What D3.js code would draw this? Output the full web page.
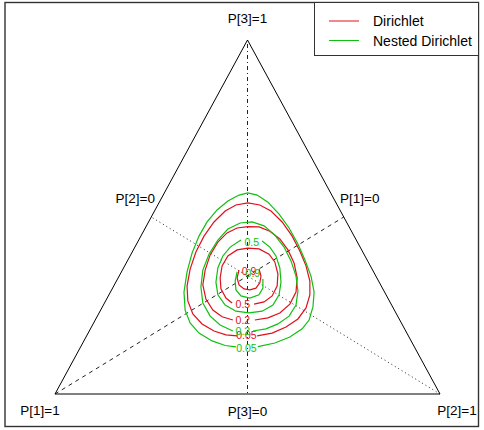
<!DOCTYPE html>
<html>
<head>
<meta charset="utf-8">
<script src="https://cdn.jsdelivr.net/npm/d3@7"></script>
<style>
  body { margin: 0; background: #fff; }
  svg { display: block; font-family: 'Liberation Sans', Arial, sans-serif; }
</style>
</head>
<body>
<script>
// simplex coords: x = p2 + p3/2 (0..1 across the base), y = p3 (0..1 up to the apex)
const seriesNames = ['Dirichlet', 'Nested Dirichlet'];
const levels = ['0.05', '0.2', '0.5', '0.9'];
const vertexLabels = ['P[1]=1', 'P[2]=1', 'P[3]=1'];
const edgeLabels = ['P[2]=0', 'P[1]=0', 'P[3]=0'];

// Dirichlet contours (open where the level label sits)
const dir005 = [[0.525,0.164],[0.564,0.172],[0.600,0.189],[0.631,0.212],[0.652,0.243],[0.662,0.280],[0.662,0.319],[0.652,0.362],[0.636,0.404],[0.616,0.446],[0.590,0.486],[0.561,0.517],[0.532,0.534],[0.501,0.540],[0.470,0.534],[0.442,0.517],[0.413,0.486],[0.387,0.446],[0.366,0.401],[0.351,0.353],[0.343,0.305],[0.345,0.263],[0.358,0.226],[0.382,0.198],[0.413,0.178],[0.444,0.167],[0.473,0.164]];
const dir02 = [[0.519,0.209],[0.553,0.215],[0.584,0.229],[0.610,0.254],[0.626,0.288],[0.629,0.328],[0.621,0.370],[0.605,0.407],[0.584,0.438],[0.558,0.460],[0.530,0.472],[0.501,0.473],[0.473,0.469],[0.447,0.455],[0.423,0.429],[0.403,0.393],[0.390,0.350],[0.384,0.308],[0.392,0.268],[0.410,0.237],[0.434,0.218],[0.462,0.209]];
const dir05 = [[0.517,0.254],[0.543,0.260],[0.564,0.277],[0.577,0.305],[0.579,0.339],[0.571,0.373],[0.556,0.395],[0.530,0.410],[0.501,0.412],[0.473,0.407],[0.449,0.390],[0.434,0.362],[0.429,0.328],[0.431,0.297],[0.444,0.271],[0.460,0.257]];
const dir09 = [[0.530,0.353],[0.535,0.333],[0.532,0.314],[0.522,0.299],[0.506,0.294],[0.491,0.297],[0.478,0.308],[0.473,0.328],[0.478,0.350]];

// Nested Dirichlet contours
const nest005 = [[0.527,0.134],[0.571,0.144],[0.610,0.161],[0.642,0.184],[0.660,0.209],[0.670,0.246],[0.673,0.288],[0.665,0.333],[0.649,0.379],[0.631,0.424],[0.608,0.469],[0.582,0.508],[0.553,0.542],[0.525,0.562],[0.501,0.568],[0.478,0.562],[0.449,0.545],[0.421,0.520],[0.395,0.486],[0.374,0.446],[0.356,0.398],[0.343,0.345],[0.335,0.288],[0.338,0.237],[0.351,0.201],[0.374,0.172],[0.408,0.150],[0.442,0.137],[0.470,0.133]];
const nest02 = [[0.514,0.178],[0.548,0.184],[0.579,0.198],[0.608,0.220],[0.626,0.251],[0.631,0.291],[0.626,0.333],[0.613,0.376],[0.595,0.415],[0.571,0.449],[0.543,0.475],[0.512,0.486],[0.481,0.483],[0.449,0.466],[0.423,0.435],[0.400,0.395],[0.384,0.350],[0.379,0.302],[0.384,0.257],[0.403,0.220],[0.429,0.195],[0.462,0.178]];
const nest05 = [[0.538,0.432],[0.558,0.415],[0.574,0.390],[0.584,0.356],[0.587,0.316],[0.582,0.280],[0.566,0.251],[0.538,0.234],[0.504,0.229],[0.470,0.234],[0.442,0.251],[0.423,0.280],[0.418,0.316],[0.423,0.356],[0.436,0.390],[0.455,0.415],[0.483,0.435]];
const nest09 = [[0.540,0.325],[0.540,0.299],[0.530,0.280],[0.506,0.271],[0.483,0.277],[0.470,0.294],[0.468,0.319],[0.473,0.345]];

// where the level labels sit, same order as levels
const dirLabelPos = [[0.497,0.167],[0.488,0.209],[0.488,0.254],[0.504,0.347]];
const nestLabelPos = [[0.497,0.130],[0.488,0.178],[0.511,0.429],[0.514,0.342]];

const colors = ['#e0101a', '#10c010'];

const w = 484;
const h = 430;
const svg = d3.select('body')
              .append('svg')
              .attr('width', w)
              .attr('height', h)

// device frame
svg.append('rect')
   .attr('x', 5)
   .attr('y', 2.5)
   .attr('width', 473.5)
   .attr('height', 424)
   .attr('fill', 'none')
   .attr('stroke', '#333')
   .attr('stroke-width', 1.4)

const xScale = d3.scaleLinear().domain([0, 1]).range([55, 440]);
const yScale = d3.scaleLinear().domain([0, 1]).range([394, 40]);
const line = d3.line().x(d => xScale(d[0])).y(d => yScale(d[1]));

const vertices = [[0, 0], [1, 0], [0.5, 1]];
const midpoints = [[0.25, 0.5], [0.75, 0.5], [0.5, 0]];

// the three P[i] axes
const axes = [
  {from: vertices[0], to: midpoints[1], dash: '4,4'},
  {from: vertices[1], to: midpoints[0], dash: '1,3'},
  {from: vertices[2], to: midpoints[2], dash: '1,3,4,3'}
];
svg.append('g')
   .selectAll('path')
   .data(axes)
   .enter()
   .append('path')
   .attr('d', d => line([d.from, d.to]))
   .attr('fill', 'none')
   .attr('stroke', '#222')
   .attr('stroke-dasharray', d => d.dash)

svg.append('path')
   .attr('d', line(vertices) + 'Z')
   .attr('fill', 'none')
   .attr('stroke', '#000')

// corner and edge labels
const vOffset = [[-15, 21], [17, 21], [0, -17]];
svg.append('g')
   .selectAll('text')
   .data(vertexLabels)
   .enter()
   .append('text')
   .attr('x', (d, i) => xScale(vertices[i][0]) + vOffset[i][0])
   .attr('y', (d, i) => yScale(vertices[i][1]) + vOffset[i][1])
   .attr('text-anchor', 'middle')
   .attr('font-size', 13.5)
   .text(d => d)

const eOffset = [[-16, -14], [16, -14], [0, 22]];
svg.append('g')
   .selectAll('text')
   .data(edgeLabels)
   .enter()
   .append('text')
   .attr('x', (d, i) => xScale(midpoints[i][0]) + eOffset[i][0])
   .attr('y', (d, i) => yScale(midpoints[i][1]) + eOffset[i][1])
   .attr('text-anchor', 'middle')
   .attr('font-size', 13.5)
   .text(d => d)

// contours
const contourSets = [
  {paths: [dir005, dir02, dir05, dir09], labels: dirLabelPos},
  {paths: [nest005, nest02, nest05, nest09], labels: nestLabelPos}
];
contourSets.forEach((set, s) => {
  const g = svg.append('g');
  g.selectAll('path')
   .data(set.paths)
   .enter()
   .append('path')
   .attr('d', d => line(d))
   .attr('fill', 'none')
   .attr('stroke', colors[s])
   .attr('stroke-width', 1.2)
  g.selectAll('text')
   .data(set.labels)
   .enter()
   .append('text')
   .attr('x', d => xScale(d[0]))
   .attr('y', d => yScale(d[1]) + 4)
   .attr('text-anchor', 'middle')
   .attr('font-size', 10.5)
   .attr('fill', colors[s])
   .text((d, i) => levels[i])
})

// legend
const legend = svg.append('g')
                  .attr('id', 'legend')
legend.append('rect')
      .attr('x', 314.5)
      .attr('y', 2.5)
      .attr('width', 164)
      .attr('height', 53)
      .attr('fill', '#fff')
      .attr('stroke', '#333')
const items = legend.selectAll('g')
                    .data(seriesNames)
                    .enter()
                    .append('g')
                    .attr('transform', (d, i) => 'translate(0,' + (21 + i * 19.5) + ')')
items.append('line')
     .attr('x1', 329)
     .attr('x2', 359)
     .attr('stroke', (d, i) => colors[i])
items.append('text')
     .attr('x', 373)
     .attr('y', 5)
     .attr('font-size', 14)
     .text(d => d)
</script>
</body>
</html>
